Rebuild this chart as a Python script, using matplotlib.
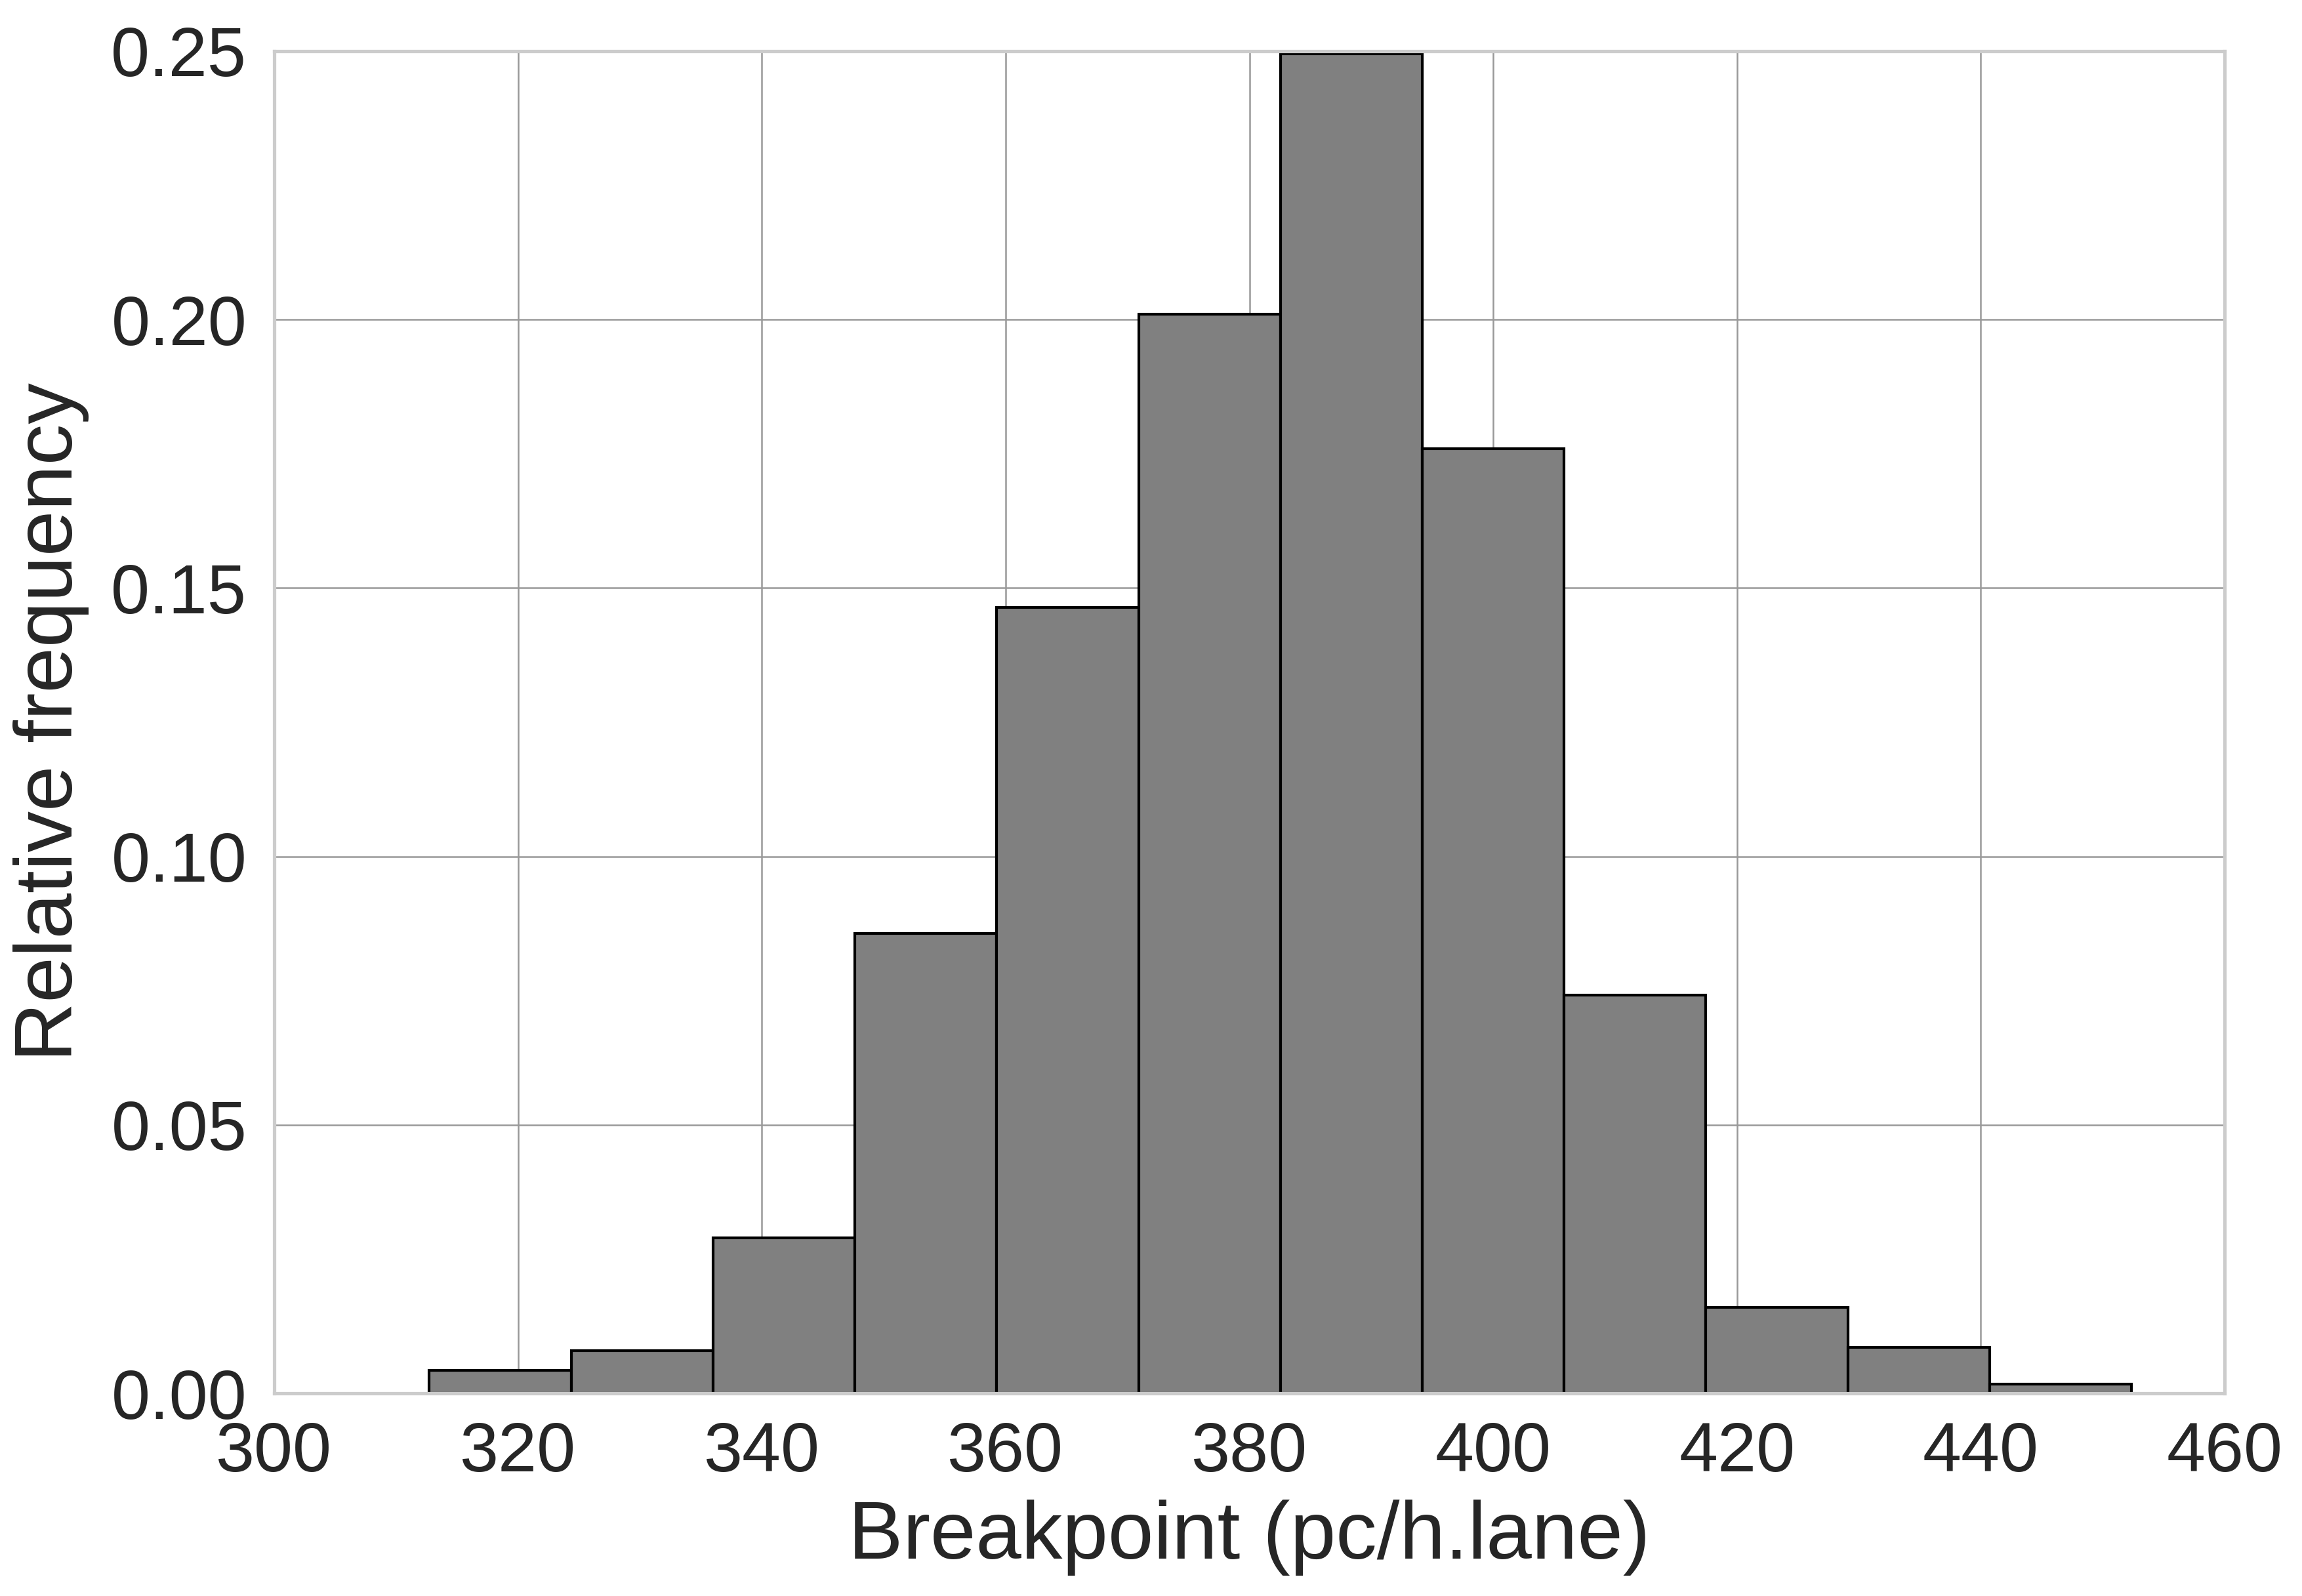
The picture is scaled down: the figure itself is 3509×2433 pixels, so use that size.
import matplotlib
matplotlib.use("Agg")
import matplotlib.pyplot as plt
import numpy as np

# Histogram data (relative frequency per bin)
bin_edges = [312.73, 324.37, 336.00, 347.64, 359.27, 370.91, 382.55,
             394.18, 405.82, 417.45, 429.09, 440.73, 452.36]
rel_freq = [0.0043, 0.0079, 0.0289, 0.0856, 0.1464, 0.2010, 0.2495,
            0.1760, 0.0742, 0.0160, 0.0085, 0.0017]
x_ticks = [300, 320, 340, 360, 380, 400, 420, 440, 460]
y_ticks = [0.00, 0.05, 0.10, 0.15, 0.20, 0.25]

plt.rcParams['font.family'] = ['Liberation Sans', 'DejaVu Sans']

fig = plt.figure(figsize=(3509 / 300, 2433 / 300), dpi=300)
ax = fig.add_axes([0.1191, 0.127, 0.9664 - 0.1191, 0.968 - 0.127])

edges = np.array(bin_edges)
ax.bar(edges[:-1], rel_freq, width=np.diff(edges), align='edge',
       color='#808080', edgecolor='black', linewidth=1.0, zorder=2)

ax.set_xlim(300, 460)
ax.set_ylim(0, 0.25)
ax.set_xticks(x_ticks)
ax.set_yticks(y_ticks)
ax.set_yticklabels([f"{v:.2f}" for v in y_ticks])

ax.grid(True, color='#999999', linewidth=0.6, zorder=0)
ax.set_axisbelow(True)
for s in ax.spines.values():
    s.set_color('#cccccc')
    s.set_linewidth(1.25)

ax.tick_params(axis='both', length=0, labelsize=25.5, colors='#262626', pad=10)
ax.set_xlabel('Breakpoint (pc/h.lane)', fontsize=30, color='#262626', labelpad=5)
ax.set_ylabel('Relative frequency', fontsize=30, color='#262626', labelpad=8)

fig.savefig('out.png', dpi=300, facecolor='white')
